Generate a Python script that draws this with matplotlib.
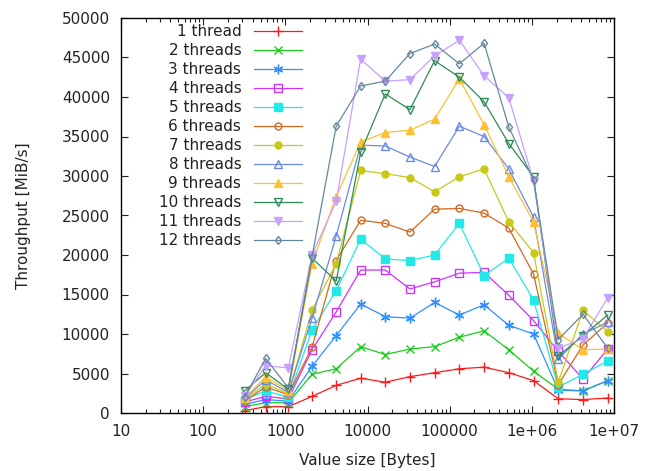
import numpy as np
import matplotlib
matplotlib.use("Agg")
import matplotlib.pyplot as plt
from matplotlib.ticker import FixedLocator, LogLocator, NullFormatter

# value sizes [bytes]
sizes = [320, 576, 1088, 2112, 4160, 8256, 16448, 32832, 65600, 131136,
         262208, 524352, 1048640, 2097216, 4194368, 8388672]

# throughput [MiB/s] per thread count
t1 = [300, 800, 800, 2100, 3500, 4400, 3900, 4600, 5100, 5600, 5800, 5100, 4100, 1800, 1700, 1900]
t2 = [800, 1300, 1300, 4900, 5600, 8400, 7400, 8100, 8400, 9600, 10400, 8000, 5300, 3000, 2800, 4100]
t3 = [1100, 1700, 1500, 5900, 9800, 13800, 12200, 12000, 14000, 12400, 13700, 11100, 10000, 2900, 2800, 4100]
t4 = [1400, 2100, 1800, 8000, 12800, 18100, 18100, 15700, 16600, 17700, 17800, 14900, 11700, 7800, 4300, 8100]
t5 = [1700, 2800, 2000, 10500, 15500, 22000, 19500, 19300, 20000, 24000, 17400, 19600, 14300, 3300, 4900, 6600]
t6 = [1500, 3300, 2300, 8300, 19300, 24400, 24000, 22900, 25800, 25900, 25300, 23400, 17600, 3600, 8600, 11400]
t7 = [1600, 3700, 2400, 13000, 18900, 30700, 30300, 29800, 28000, 29900, 30900, 24200, 20300, 3900, 13000, 10300]
t8 = [1800, 4200, 2600, 12000, 22400, 33900, 33800, 32400, 31200, 36300, 35000, 30900, 24800, 6800, 10000, 11500]
t9 = [1900, 4600, 2800, 18900, 27400, 34300, 35500, 35800, 37200, 42300, 36500, 29900, 24200, 10100, 8000, 8100]
t10 = [2800, 5100, 3000, 19600, 16700, 33000, 40400, 38400, 44600, 42500, 39400, 34100, 29900, 7200, 9800, 12400]
t11 = [2100, 6000, 5700, 20000, 26800, 44800, 42000, 42200, 45200, 47200, 42700, 39900, 29400, 8200, 9400, 14600]
t12 = [2000, 6900, 3200, 19800, 36300, 41400, 42000, 45500, 46700, 44200, 46800, 36200, 29500, 9300, 12500, 8200]

series = [t1, t2, t3, t4, t5, t6, t7, t8, t9, t10, t11, t12]
labels = ["1 thread"] + ["%d threads" % n for n in range(2, 13)]

colors = ["#ff1a1a", "#1ccc1c", "#3090ff", "#cc33ff", "#22e8e8", "#d2691e",
          "#c8c818", "#6a8ae6", "#ffc030", "#2e8b57", "#c8a0ff", "#66889e"]
markers = ["+", "x", (6, 2, 0), "s", "s", "o", "o", "^", "^", "v", "v", "d"]
filled = [True, True, True, False, True, False, True, False, True, False, True, False]
msizes = [7, 6, 7, 6, 6, 5, 5, 6, 6, 6, 6, 4.5]

plt.rcParams["font.family"] = "DejaVu Sans"
plt.rcParams["font.size"] = 11
plt.rcParams["text.color"] = "#222222"
plt.rcParams["axes.labelcolor"] = "#222222"
plt.rcParams["xtick.color"] = "#222222"
plt.rcParams["ytick.color"] = "#222222"

fig = plt.figure(figsize=(6.52, 4.71), dpi=100)
ax = fig.add_axes([121 / 652, 1 - 413 / 471, 493 / 652, 395 / 471])

for y, lab, c, m, f, ms in zip(series, labels, colors, markers, filled, msizes):
    ax.plot(sizes, y, color=c, lw=0.9, marker=m, ms=ms, mew=1.0,
            mfc=c if f else "none", mec=c, label=lab)

ax.set_xscale("log")
ax.set_xlim(10, 1e7)
ax.set_ylim(0, 50000)

ax.xaxis.set_major_locator(FixedLocator([10, 100, 1000, 1e4, 1e5, 1e6, 1e7]))
ax.set_xticklabels(["10", "100", "1000", "10000", "100000", "1e+06", "1e+07"])
ax.xaxis.set_minor_locator(LogLocator(base=10, subs=np.arange(2, 10)))
ax.xaxis.set_minor_formatter(NullFormatter())
ax.set_yticks(np.arange(0, 50001, 5000))

ax.tick_params(which="both", direction="in", top=True, right=True, pad=8)
ax.tick_params(which="major", length=5, width=0.8)
ax.tick_params(which="minor", length=3, width=0.8)
for s in ax.spines.values():
    s.set_linewidth(1.0)

ax.set_xlabel("Value size [Bytes]", labelpad=10)
ax.set_ylabel("Throughput [MiB/s]", labelpad=22)

ax.legend(loc="upper right", bbox_to_anchor=(0.368, 0.984), frameon=False,
          markerfirst=False, handlelength=3.2, handletextpad=0.8,
          labelspacing=0.26, borderpad=0, borderaxespad=0, fontsize=11)

fig.savefig("out.png", dpi=100)
